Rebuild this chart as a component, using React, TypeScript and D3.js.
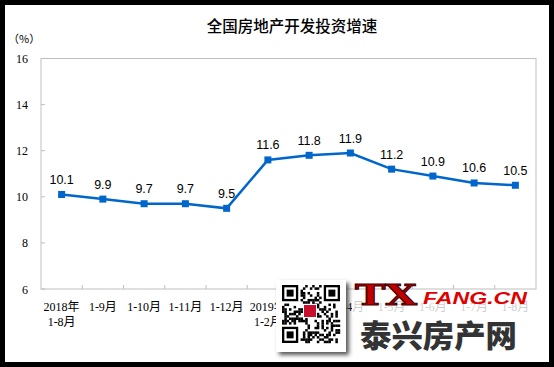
import * as d3 from "d3";

const categories = [
  "2018年\n1-8月", "1-9月", "1-10月", "1-11月", "1-12月",
  "2019年\n1-2月", "1-3月", "1-4月", "1-5月", "1-6月", "1-7月", "1-8月",
];
const growth = [10.1, 9.9, 9.7, 9.7, 9.5, 11.6, 11.8, 11.9, 11.2, 10.9, 10.6, 10.5];
const yTicks = [6, 8, 10, 12, 14, 16];

const W = 554;
const H = 367;
const plot = { left: 41, right: 536, top: 58.5, bottom: 289 };
const BLUE = "#0066cc";
const GRID = "#bfbfbf";

// deterministic decorative QR-ish pattern for the watermark
const QR_N = 25;
function qrCell(i: number, j: number) {
  const inFinder = (a: number, b: number) => a < 8 && b < 8;
  if (inFinder(i, j) || inFinder(QR_N - 1 - i, j) || inFinder(i, QR_N - 1 - j)) return false;
  const h = ((i * 31 + j * 17) ^ (i * j * 5 + 3)) % 7;
  return h < 3;
}

function Finder({ x, y, s }: { x: number; y: number; s: number }) {
  return (
    <g>
      <rect x={x} y={y} width={7 * s} height={7 * s} fill="#000" />
      <rect x={x + s} y={y + s} width={5 * s} height={5 * s} fill="#fff" />
      <rect x={x + 2 * s} y={y + 2 * s} width={3 * s} height={3 * s} fill="#000" />
    </g>
  );
}

export default function App() {
  const x = d3.scaleBand<string>().domain(categories).range([plot.left, plot.right]);
  const y = d3.scaleLinear().domain([6, 16]).range([plot.bottom, plot.top]);
  const cx = (i: number) => (x(categories[i]) ?? 0) + x.bandwidth() / 2;

  const line = d3
    .line<number>()
    .x((_, i) => cx(i))
    .y((d) => y(d));

  const qrX = 282;
  const qrY = 285;
  const s = 58 / QR_N;
  const cells: JSX.Element[] = [];
  for (let i = 0; i < QR_N; i++)
    for (let j = 0; j < QR_N; j++)
      if (qrCell(i, j))
        cells.push(<rect key={`${i}-${j}`} x={qrX + i * s} y={qrY + j * s} width={s + 0.2} height={s + 0.2} fill="#000" />);

  return (
    <svg width={W} height={H} style={{ position: "fixed", left: 0, top: 0 }}>
      <defs>
        <filter id="shadow" x="-20%" y="-20%" width="150%" height="150%">
          <feGaussianBlur stdDeviation="2" />
        </filter>
      </defs>
      <rect width={W} height={H} fill="#000" />
      <rect x={5} y={5} width={544} height={357} fill="#fff" />

      <text x={292} y={32} textAnchor="middle" fontFamily="'Noto Sans CJK SC'" fontWeight={500} fontSize={15.5} fill="#000">
        全国房地产开发投资增速
      </text>
      <text x={8} y={43} fontFamily="'Noto Sans CJK SC'" fontSize={11} fill="#000">
        （%）
      </text>

      {/* plot frame */}
      <rect x={plot.left} y={plot.top} width={plot.right - plot.left} height={plot.bottom - plot.top}
        fill="none" stroke={GRID} strokeWidth={1} />

      {yTicks.map((t) => (
        <g key={t}>
          <line x1={plot.left} x2={plot.left + 4} y1={y(t)} y2={y(t)} stroke={GRID} />
          <text x={28} y={y(t) + 4.5} textAnchor="end" fontFamily="'Liberation Serif'" fontSize={12} fill="#000">
            {t}
          </text>
        </g>
      ))}

      {categories.map((c, i) => (
        <g key={c + i}>
          {i > 0 && (
            <line x1={x(c)} x2={x(c)} y1={plot.bottom} y2={plot.bottom - 4} stroke={GRID} />
          )}
          {c.split("\n").map((ln, k) => (
            <text key={k} x={cx(i)} y={311 + k * 15} textAnchor="middle"
              fontFamily="'Liberation Serif', 'Noto Sans CJK SC'" fontSize={12} fill="#000">
              {ln}
            </text>
          ))}
        </g>
      ))}

      <path d={line(growth) ?? ""} fill="none" stroke={BLUE} strokeWidth={2.5} />
      {growth.map((v, i) => (
        <g key={i}>
          <rect x={cx(i) - 3.5} y={y(v) - 3.5} width={7} height={7} fill={BLUE} />
          <text x={cx(i)} y={y(v) - 10.5} textAnchor="middle" fontFamily="'Liberation Sans'" fontSize={12.5} fill="#000">
            {v.toFixed(1)}
          </text>
        </g>
      ))}

      {/* watermark */}
      <rect x={279} y={283} width={70} height={72} fill="#555" filter="url(#shadow)" />
      <rect x={276} y={280} width={70} height={72} fill="#fff" />
      {cells}
      <Finder x={qrX} y={qrY} s={s} />
      <Finder x={qrX + (QR_N - 7) * s} y={qrY} s={s} />
      <Finder x={qrX} y={qrY + (QR_N - 7) * s} s={s} />
      <rect x={303} y={304} width={14} height={14} fill="#fff" />
      <rect x={304} y={305} width={12} height={12} fill="#c8102e" />

      <rect x={352} y={298} width={184} height={17} fill="#fff" opacity={0.8} />
      <text x={355} y={305} fontFamily="'DejaVu Serif'" fontWeight="bold" fontSize={27}
        textLength={62} lengthAdjust="spacingAndGlyphs" fill="#c00000" stroke="#400000" strokeWidth={1}>
        TX
      </text>
      <text x={423} y={304} fontFamily="'Liberation Sans'" fontWeight="bold" fontStyle="italic" fontSize={16}
        textLength={104} lengthAdjust="spacingAndGlyphs" fill="#e00000">
        FANG.CN
      </text>
      <text x={360} y={347} fontFamily="'Noto Sans CJK SC'" fontWeight={900} fontSize={31}
        textLength={157} lengthAdjust="spacingAndGlyphs" fill="#333">
        泰兴房产网
      </text>
    </svg>
  );
}
